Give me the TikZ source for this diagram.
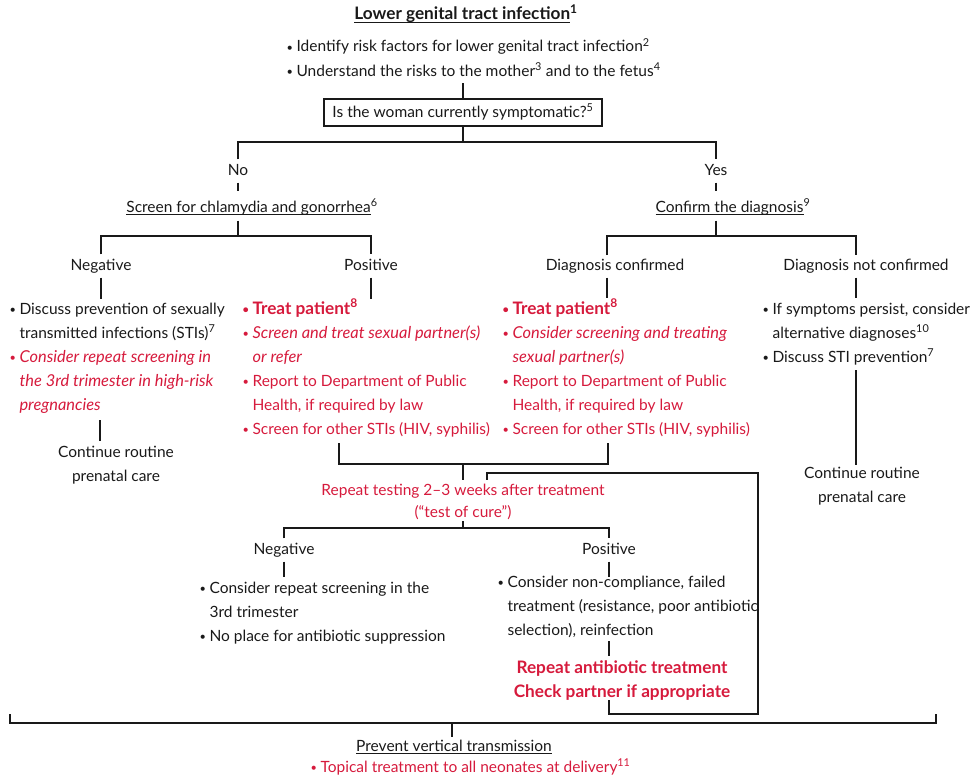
\documentclass[tikz,border=0pt]{standalone}
\usepackage{fontspec}
\setmainfont{Lato}
\definecolor{alertred}{RGB}{214,26,60}
\definecolor{ink}{RGB}{25,25,25}
\newcommand\chartfont{\fontsize{15.5pt}{24pt}\selectfont}
\newcommand\chartfontit{\fontsize{16.4pt}{24pt}\selectfont\itshape}
\newcommand\chartfontbf{\fontsize{17.2pt}{24pt}\selectfont\bfseries}
\newcommand\bul{\makebox[10pt][l]{\fontsize{11pt}{11pt}\selectfont\raisebox{0.6pt}{\textbullet}}}
\newsavebox\ulbox
\newcommand\chartul[1]{\sbox\ulbox{#1}\rlap{\rule[-2.6pt]{\wd\ulbox}{0.8pt}}\usebox\ulbox}
\begin{document}
\begin{tikzpicture}[x=1pt,y=-1pt,line width=1.1pt,draw=ink,
  txt/.style={anchor=base west,inner sep=0pt,font=\chartfont,text=ink},
  ctr/.style={anchor=base,inner sep=0pt,font=\chartfont,text=ink},
  lbl/.style={anchor=base,font=\chartfont,text=ink,inner xsep=2pt,inner ysep=4pt,text height=11pt,text depth=3pt},
  head/.style={anchor=base,font=\chartfont,text=ink,inner xsep=0pt,inner ysep=8pt,text height=12pt,text depth=0pt},
  alert/.style={text=alertred},
  em/.style={font=\chartfontit},
  strong/.style={font=\chartfontbf}]
\useasboundingbox (0,0) rectangle (974,776);

% ---- heading and entry question
\node[ctr,strong] (title) at (466,20) {\chartul{Lower genital tract infection}\textsuperscript{1}};
\node[txt] (g1) at (286,52) {\bul Identify risk factors for lower genital tract infection\textsuperscript{2}};
\node[txt] (g2) at (286,76) {\bul Understand the risks to the mother\textsuperscript{3} and to the fetus\textsuperscript{4}};
\node[draw,minimum width=278pt,minimum height=27pt,font=\chartfont,text=ink,text height=12pt,text depth=3pt,inner sep=0pt] (q) at (463,112.5) {Is the woman currently symptomatic?\textsuperscript{5}};
\coordinate (g2s) at (463,83);
\draw (g2s) -- (q.north);
\coordinate (qj) at (463,142);
\draw (q.south) -- (qj);
\node[lbl] (no) at (238,175) {No};
\node[lbl] (yes) at (716,175) {Yes};
\draw (no.north) |- (qj) -| (yes.north);

% ---- asymptomatic branch
\node[head] (screen) at (252,212) {\chartul{Screen for chlamydia and gonorrhea}\textsuperscript{6}};
\draw (no.south) -- (no.south |- screen.north);
\coordinate (sj) at (238,236);
\draw (no.south |- screen.south) -- (sj);
\node[lbl] (neg) at (101,270) {Negative};
\node[lbl] (pos) at (371,270) {Positive};
\draw (neg.north) |- (sj) -| (pos.north);
\draw (neg.south) -- ++(0,21);
\draw (pos.south) -- ++(0,21);

\node[txt] (a1) at (9,314) {\bul Discuss prevention of sexually};
\node[txt] (a2) at (19,338) {transmitted infections (STIs)\textsuperscript{7}};
\node[txt,alert,em] (a3) at (9,362) {\bul Consider repeat screening in};
\node[txt,alert,em] (a4) at (19,386) {the 3rd trimester in high-risk};
\node[txt,alert,em] (a5) at (19,410) {pregnancies};
\coordinate (a5s) at (100,420);
\coordinate (crLn) at (100,441);
\draw (a5s) -- (crLn);
\node[ctr] (crL1) at (116,457) {Continue routine};
\node[ctr] (crL2) at (116,481) {prenatal care};

\node[txt,alert,strong] (b1) at (242,314) {\bul Treat patient\textsuperscript{8}};
\node[txt,alert,em] (b2) at (242,338) {\bul Screen and treat sexual partner(s)};
\node[txt,alert,em] (b3) at (252,362) {or refer};
\node[txt,alert] (b4) at (242,386) {\bul Report to Department of Public};
\node[txt,alert] (b5) at (252,410) {Health, if required by law};
\node[txt,alert] (b6) at (242,434) {\bul Screen for other STIs (HIV, syphilis)};

% ---- symptomatic branch
\node[head] (confirm) at (733,212) {\chartul{Confirm the diagnosis}\textsuperscript{9}};
\draw (yes.south) -- (yes.south |- confirm.north);
\coordinate (cj) at (716,236);
\draw (yes.south |- confirm.south) -- (cj);
\node[lbl] (dc) at (615,270) {Diagnosis confirmed};
\node[lbl] (dnc) at (866,270) {Diagnosis not confirmed};
\coordinate (dcN) at (607,255);
\coordinate (dcS) at (607,298);
\coordinate (dncN) at (856,255);
\coordinate (dncS) at (856,298);
\draw (dcN) |- (cj) -| (dncN);
\draw (dcN |- dc.south) -- (dcS);
\draw (dncN |- dnc.south) -- (dncS);

\node[txt,alert,strong] (c1) at (502,314) {\bul Treat patient\textsuperscript{8}};
\node[txt,alert,em] (c2) at (502,338) {\bul Consider screening and treating};
\node[txt,alert,em] (c3) at (512,362) {sexual partner(s)};
\node[txt,alert] (c4) at (502,386) {\bul Report to Department of Public};
\node[txt,alert] (c5) at (512,410) {Health, if required by law};
\node[txt,alert] (c6) at (502,434) {\bul Screen for other STIs (HIV, syphilis)};

\node[txt] (d1) at (762,314) {\bul If symptoms persist, consider};
\node[txt] (d2) at (772,338) {alternative diagnoses\textsuperscript{10}};
\node[txt] (d3) at (762,362) {\bul Discuss STI prevention\textsuperscript{7}};
\coordinate (d3s) at (856,370);
\coordinate (crRn) at (856,465);
\draw (d3s) -- (crRn);
\node[ctr] (crR1) at (862,478) {Continue routine};
\node[ctr] (crR2) at (862,502) {prenatal care};

% ---- test of cure
\coordinate (pj) at (339,443);
\coordinate (cjj) at (608,443);
\coordinate (mj) at (463,464);
\coordinate (rtN) at (463,480);
\draw (pj) |- (mj) -| (cjj);
\draw (mj) -- (rtN);
\node[ctr,alert] (rt1) at (463,495) {Repeat testing 2–3 weeks after treatment};
\node[ctr,alert] (rt2) at (463,517) {(“test of cure”)};
\coordinate (rtS) at (463,521);
\coordinate (tj) at (463,528);
\draw (rtS) -- (tj);
\node[lbl] (neg2) at (284,554) {Negative};
\node[lbl] (pos2) at (609,554) {Positive};
\draw (neg2.north) |- (tj) -| (pos2.north);
\draw (neg2.south) -- ++(0,15);
\draw (pos2.south) -- ++(0,15);

\node[txt] (e1) at (199,593) {\bul Consider repeat screening in the};
\node[txt] (e2) at (209,617) {3rd trimester};
\node[txt] (e3) at (199,641) {\bul No place for antibiotic suppression};

\node[txt] (f1) at (497,587) {\bul Consider non-compliance, failed};
\node[txt] (f2) at (507,611) {treatment (resistance, poor antibiotic};
\node[txt] (f3) at (507,635) {selection), reinfection};
\coordinate (f3s) at (609,641);
\coordinate (raN) at (609,656);
\draw (f3s) -- (raN);
\node[ctr,alert,strong] (ra1) at (622,673) {Repeat antibiotic treatment};
\node[ctr,alert,strong] (ra2) at (622,697) {Check partner if appropriate};

% ---- retreatment loops back to repeat testing
\coordinate (raS) at (609,700);
\coordinate (lp1) at (758,714);
\coordinate (lp2) at (487,473);
\coordinate (rtR) at (487,480);
\draw (raS) |- (lp1) |- (lp2) -- (rtR);

% ---- common outcome
\coordinate (bl) at (10,714);
\coordinate (br) at (936,714);
\coordinate (bj) at (452,723);
\coordinate (pvN) at (452,737);
\draw (bl) |- (bj) -| (br);
\draw (bj) -- (pvN);
\node[ctr] (pv) at (454,751) {\chartul{Prevent vertical transmission}};
\node[txt,alert] (tt) at (310,772) {\bul Topical treatment to all neonates at delivery\textsuperscript{11}};
\end{tikzpicture}
\end{document}
